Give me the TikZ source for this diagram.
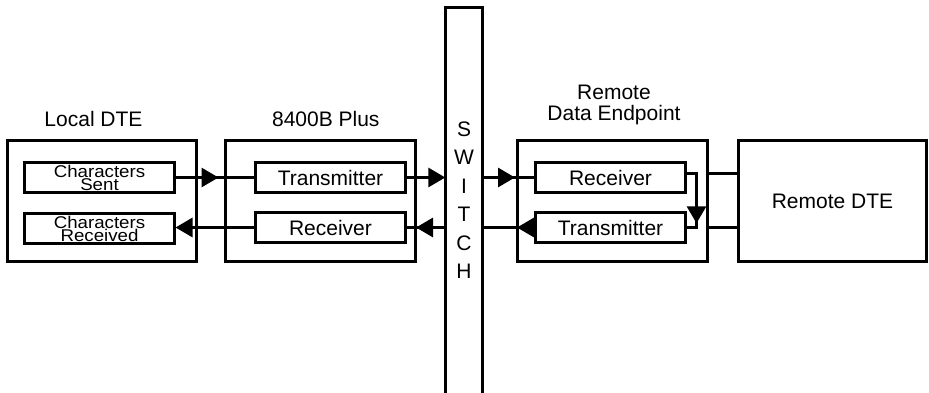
\documentclass[tikz,border=0pt]{standalone}
\usepackage{fontspec}
\setmainfont{Liberation Sans}
\usetikzlibrary{arrows.meta,calc}
\newcommand\smallcharfont{\fontsize{17}{13}\selectfont\addfontfeature{FakeStretch=1.1}\lineskiplimit -100pt\relax}
\begin{document}
\begin{tikzpicture}[x=1pt,y=-1pt,
  every node/.style={font=\fontsize{21}{21}\selectfont},
  outerbox/.style={draw, line width=3pt, minimum width=#1, minimum height=121pt, inner sep=0pt},
  innerbox/.style={draw, line width=3pt, minimum width=150pt, minimum height=30pt, inner sep=0pt, align=center},
  smalltxt/.style={font=\smallcharfont},
  conn/.style={line width=3pt},
  arr/.style={line width=3pt, -{Triangle[length=17pt,width=19pt]}}
]
\useasboundingbox (0,0) rectangle (929,393);
\fill[white] (0,0) rectangle (929,393);

% outer boxes
\node[outerbox=189pt] (ldte) at (102,201) {};
\node[outerbox=190pt] (pbox) at (320.5,201) {};
\node[outerbox=190pt] (rde) at (612.5,201) {};
\node[outerbox=188pt] (rdte) at (832.5,201) {Remote DTE};

% titles
\node[anchor=base] (ldtel) at (93.5,127) {Local DTE};
\node[anchor=base] (pboxl) at (325.8,127) {8400B Plus};
\node[anchor=base] (rdel1) at (614,100) {Remote};
\node[anchor=base] (rdel2) at (614,120.7) {Data Endpoint};

% switch
\node[minimum width=37pt, minimum height=385.5pt, inner sep=0pt, align=center,
      font=\fontsize{21}{28.5}\selectfont] (sw) at (464,200.25) {S\\W\\I\\T\\C\\H};
\draw[line width=3pt] (sw.south west) -- (sw.north west) -- (sw.north east) -- (sw.south east);

% inner boxes
\node[innerbox, smalltxt] (cs) at (99.5,177.5) {Characters\\Sent};
\node[innerbox, smalltxt] (cr) at (99.5,228.5) {Characters\\Received};
\node[innerbox] (tx1) at (330.5,177.5) {Transmitter};
\node[innerbox] (rx1) at (330.5,227.5) {Receiver};
\node[innerbox] (rx2) at (610.5,177.5) {Receiver};
\node[innerbox] (tx2) at (610.5,227.5) {Transmitter};

% top row
\draw[conn] (cs.east) -- (tx1.west);
\draw[arr, shorten >=5.5pt] (cs.east) -- (cs.east -| pbox.west);
\draw[arr] (tx1.east) -- (tx1.east -| sw.west);
\draw[conn] (tx1.east -| sw.east) -- (rx2.west);
\draw[arr, shorten >=1pt] (tx1.east -| sw.east) -- (rx2.west -| rde.west);

% loop in remote data endpoint
\coordinate (l1) at (696.5,173.5);
\coordinate (l2) at (696.5,227.5);
\draw[conn] ([yshift=4pt]rx2.east) -- (l1) -- (l2) -- (tx2.east);
\draw[arr, shorten >=4.2pt] ([yshift=4pt]rx2.east) -- (l1) -- (l2);

% bottom row
\draw[conn] (tx2.west) -- (tx2.west -| sw.east);
\draw[arr, shorten >=1pt] (tx2.west) -- (tx2.west -| rde.west);
\draw[conn] (rx1.east -| sw.west) -- (rx1.east);
\draw[arr, shorten >=-1pt] (rx1.east -| sw.west) -- (rx1.east -| pbox.east);
\draw[arr, shorten >=-0.5pt] (rx1.west) -- (rx1.west -| cr.east);

% links to remote DTE
\draw[conn] (rde.east |- l1) -- (rdte.west |- l1);
\draw[conn] (rde.east |- l2) -- (rdte.west |- l2);
\end{tikzpicture}
\end{document}
